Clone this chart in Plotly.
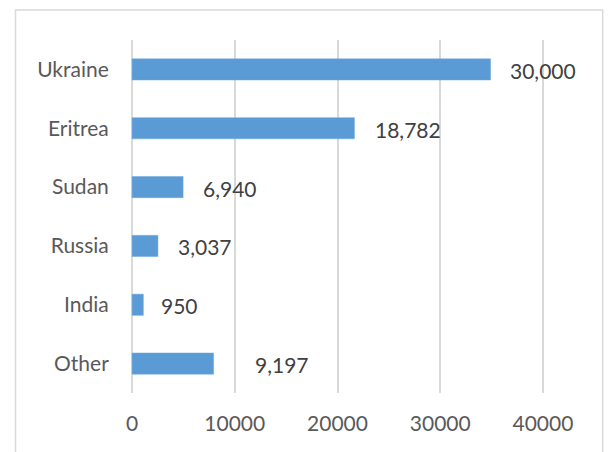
import plotly.graph_objects as go

categories = ["Ukraine", "Eritrea", "Sudan", "Russia", "India", "Other"]
bar_values = [34900, 21650, 4970, 2520, 1100, 7940]
label_texts = ["30,000", "18,782", "6,940", "3,037", "950", "9,197"]
label_gaps = [17, 19, 18, 18, 16, 39]
x_ticks = [0, 10000, 20000, 30000, 40000]

W, H = 608, 452
L, R, T, B = 130, 63, 40, 59
pw, ph = W - L - R, H - T - B

fig = go.Figure()
fig.add_trace(go.Bar(
    x=bar_values, y=categories, orientation="h",
    marker=dict(color="#5B9BD5", line=dict(color="#6FA8DC", width=0.5)),
    width=0.36, hoverinfo="skip",
))

for cat, val, txt, gap in zip(categories, bar_values, label_texts, label_gaps):
    fig.add_annotation(x=val, y=cat, text=txt, xanchor="left", yanchor="middle",
                       xshift=gap, yshift=-1, showarrow=False,
                       font=dict(family="Lato", size=21, color="#404040"))

# outer chart border
fig.add_shape(type="rect", xref="paper", yref="paper",
              x0=(15.5 - L) / pw, x1=(602.7 - L) / pw,
              y0=(H - B - 470) / ph, y1=(H - B - 10) / ph,
              line=dict(color="#D9D9D9", width=1.5), fillcolor="rgba(0,0,0,0)",
              layer="below")

fig.update_layout(
    width=W, height=H, autosize=False,
    margin=dict(l=L, r=R, t=T, b=B),
    plot_bgcolor="white", paper_bgcolor="white",
    showlegend=False,
    font=dict(family="Lato", size=21, color="#595959"),
    xaxis=dict(range=[-200, 40200], tickvals=x_ticks, ticktext=[str(v) for v in x_ticks],
               showgrid=True, gridcolor="#D9D9D9", gridwidth=2,
               zeroline=True, zerolinecolor="#D9D9D9", zerolinewidth=2, showline=False,
               ticks="outside", ticklen=12, tickcolor="rgba(0,0,0,0)",
               tickfont=dict(family="Lato", size=21, color="#595959")),
    yaxis=dict(autorange="reversed", showgrid=False, zeroline=False, showline=False,
               ticks="outside", ticklen=16, tickcolor="rgba(0,0,0,0)",
               tickfont=dict(family="Lato", size=21, color="#595959")),
)

fig.write_html("out.html", config={"displayModeBar": False, "staticPlot": True},
               post_script="document.body.style.margin='0';document.body.style.overflow='hidden';")
